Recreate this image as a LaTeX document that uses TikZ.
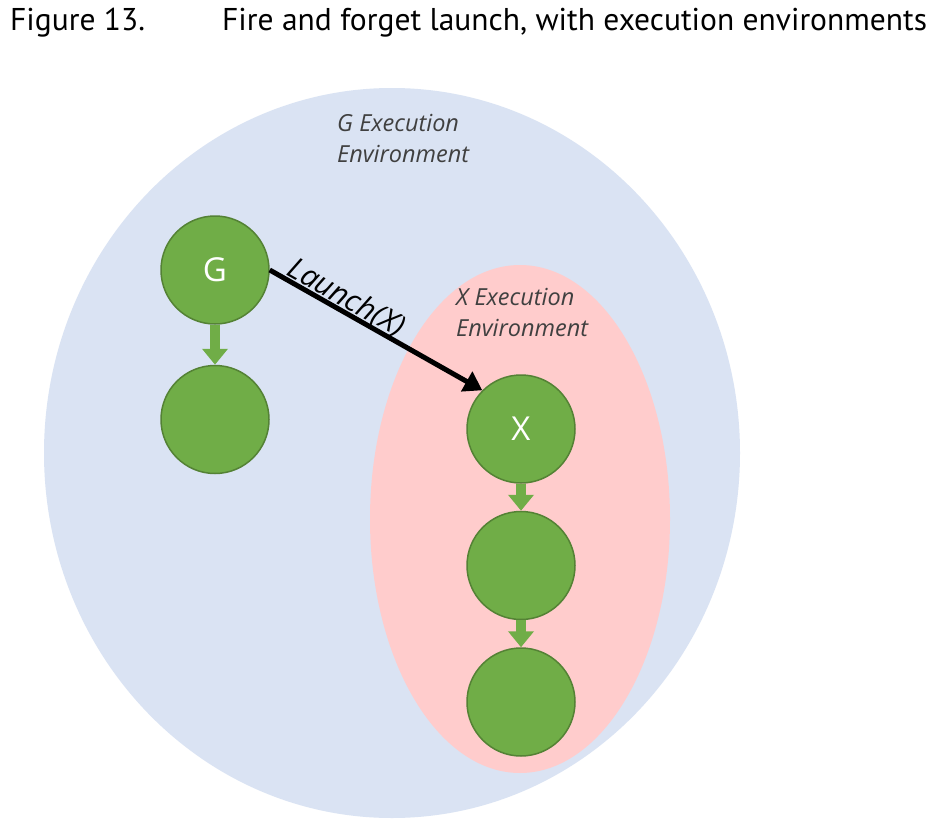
\documentclass[tikz,border=0pt]{standalone}
\usepackage{fontspec}
\newfontfamily\titlefont{PT Sans}
\newfontfamily\envfont{Open Sans}
\usetikzlibrary{arrows.meta, positioning, shapes.geometric}
\definecolor{envblue}{HTML}{DAE3F3}
\definecolor{envpink}{HTML}{FFCCCC}
\definecolor{taskgreen}{HTML}{70AD47}
\definecolor{taskedge}{HTML}{548235}
\definecolor{envtext}{HTML}{404040}
\tikzset{env/.style={ellipse,inner sep=0pt},task/.style={circle,draw=taskedge,fill=taskgreen,line width=1.5pt,minimum size=108pt,inner sep=0pt,text=white,font=\envfont\fontsize{33}{38}\selectfont},envlabel/.style={align=left,inner sep=0pt,text=envtext,font=\envfont\itshape\fontsize{23.5}{31}\selectfont},launchlabel/.style={inner sep=0pt,text=black,font=\envfont\itshape\fontsize{30}{34}\selectfont},title/.style={anchor=base west,inner sep=0pt,font=\titlefont\fontsize{31.5}{36}\selectfont},seq/.style={draw=taskgreen,line width=10pt,-{Triangle[length=16pt,width=25pt]}},line/.style={line width=5pt,-{Triangle[length=18pt,width=22pt]}}}

\begin{document}
\begin{tikzpicture}[x=1pt,y=1pt,node distance=40pt]
\useasboundingbox[fill=white] (0,0) rectangle (932,-822);
\node[title] (fig) at (10,-30) {Figure 13.};
\node[title] (caption) at (222,-30) {Fire and forget launch, with execution environments};
\node[env, fill=envblue, minimum width=696pt, minimum height=730pt] (genv) at (392,-453) {};
\node[env, fill=envpink, minimum width=300pt, minimum height=508pt] (xenv) at (520,-519) {};
\node[envlabel, anchor=north west] (glabel) at (337,-114) {G Execution\\Environment};
\node[envlabel, anchor=north west] (xlabel) at (456,-288) {X Execution\\Environment};
\node[task] (g) at (215,-270) {G};
\node[task, below=of g] (g2) {};
\node[task] (x) at (521,-429) {X};
\node[task, below=27pt of x] (x2) {};
\node[task, below=27pt of x2] (x3) {};
\draw[seq] (g) -- (g2);
\draw[seq] (x) -- (x2);
\draw[seq] (x2) -- (x3);
\draw[line] (g.east) -- node[sloped, above=-3pt, pos=0.33, launchlabel] {Launch(X)} (x.north west);
\end{tikzpicture}
\end{document}
